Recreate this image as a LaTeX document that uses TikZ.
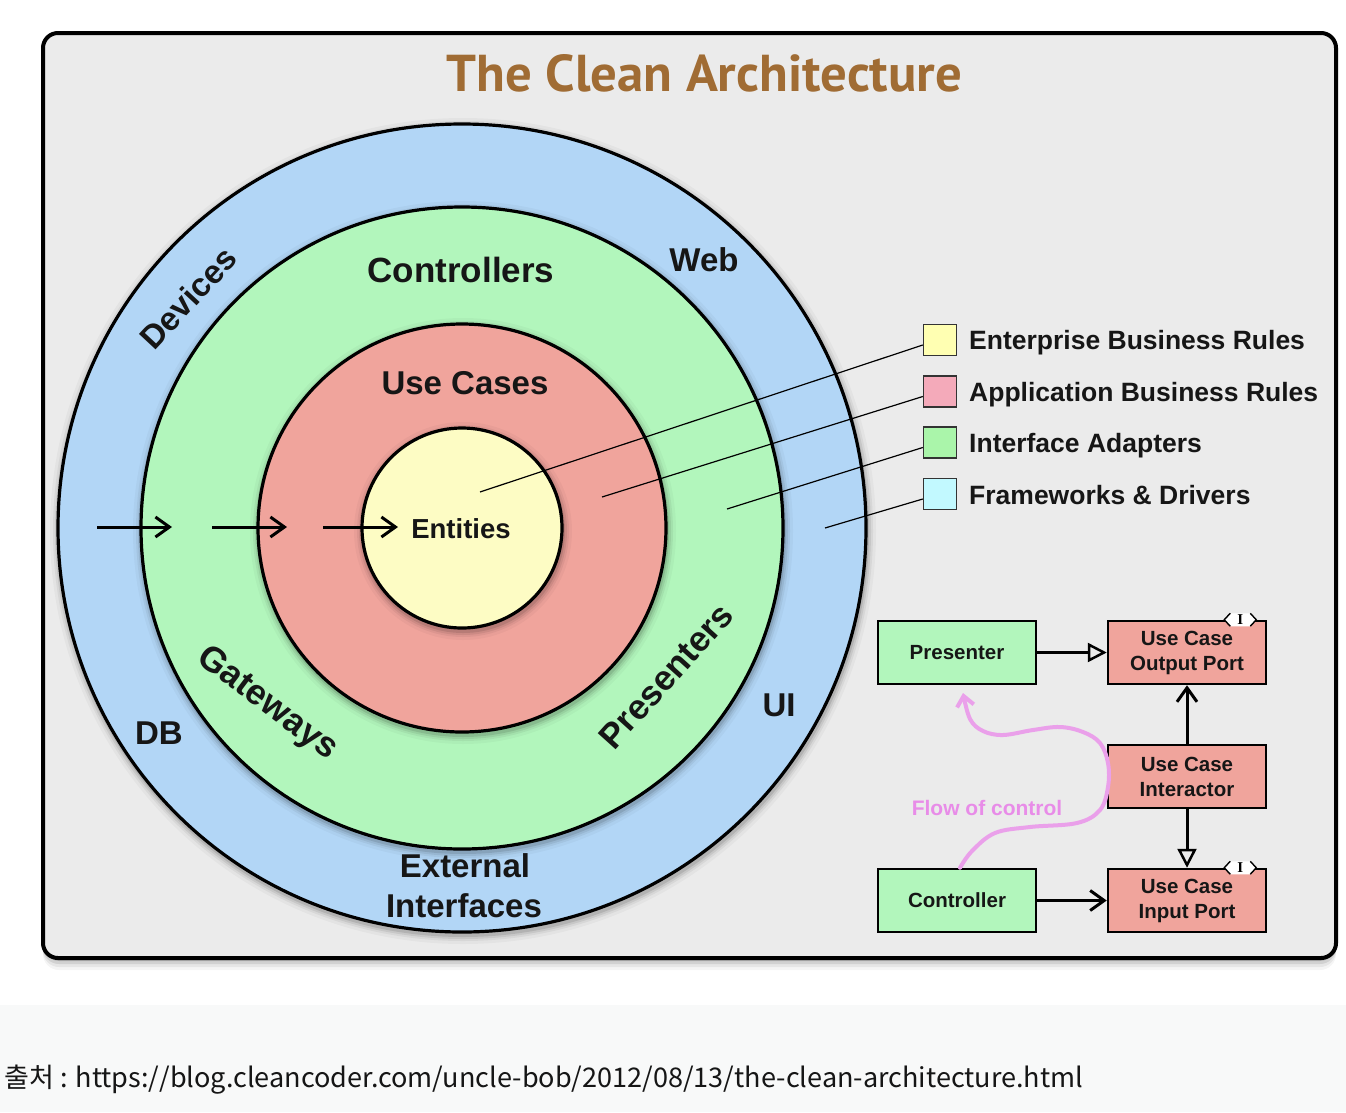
\documentclass[tikz,border=0pt]{standalone}
\usepackage{fontspec}
\setmainfont{Liberation Sans}
\newfontfamily\titlefamily{PT Sans}
\newfontfamily\serifI{Liberation Serif}
\newfontfamily\krfamily{Noto Sans CJK KR}
\usetikzlibrary{arrows.meta,calc}
\definecolor{ink}{RGB}{22,22,22}
\definecolor{framebg}{RGB}{235,235,235}
\definecolor{capbg}{RGB}{248,249,249}
\definecolor{ringblue}{RGB}{178,214,246}
\definecolor{ringgreen}{RGB}{178,246,188}
\definecolor{ringred}{RGB}{240,164,156}
\definecolor{ringyellow}{RGB}{253,252,196}
\definecolor{titlebrown}{RGB}{160,108,52}
\definecolor{flowpink}{RGB}{234,160,234}
\definecolor{flowtext}{RGB}{232,140,232}
\definecolor{legyellow}{RGB}{255,255,178}
\definecolor{legpink}{RGB}{244,170,186}
\definecolor{leggreen}{RGB}{170,245,170}
\definecolor{legcyan}{RGB}{194,249,255}
\begin{document}
\begin{tikzpicture}[x=1pt,y=-1pt,
  ring/.style={circle,draw=black,line width=3.2pt,inner sep=0pt},
  lbl/.style={font=\bfseries\fontsize{33}{36}\selectfont,text=ink,inner sep=0pt},
  legbox/.style={draw=black!80,line width=1.5pt,minimum width=33pt,minimum height=31pt,inner sep=0pt},
  legtxt/.style={font=\bfseries\fontsize{26.5}{30}\selectfont,text=ink,anchor=base west,inner sep=0pt},
  leader/.style={draw=black,line width=1.2pt},
  ibox/.style={draw=black,line width=2.5pt,minimum width=158pt,minimum height=63pt,inner sep=0pt,align=center,font=\bfseries\fontsize{20.5}{25}\selectfont,text=ink},
  dep/.style={draw=black,line width=3pt,-{Straight Barb[length=14pt,width=20pt,line width=3pt]}},
  inh/.style={draw=black,line width=3pt,-{Triangle[open,length=19pt,width=19pt,line width=2.5pt]}},
  flow/.style={draw=flowpink,line width=4pt,line cap=round,-{Straight Barb[length=10pt,width=17pt,line width=4pt]}},
]
\useasboundingbox (0,0) rectangle (1346,1112);
\fill[white] (0,0) rectangle (1346,1005);
\fill[capbg] (0,1005) rectangle (1346,1112);

% frame with soft shadow
\foreach \s/\o in {12/0.04,9/0.06,6/0.09,3/0.12}
  \fill[black,opacity=\o,rounded corners=16pt] (43,{33+\s}) rectangle (1336,{958+\s});
\draw[line width=4pt,rounded corners=15pt,fill=framebg] (43,33) rectangle (1336,958);

\node[inner sep=0pt,anchor=south,text=titlebrown] (title) at (704.5,92.5)
  {\resizebox{515pt}{37pt}{\titlefamily\bfseries The Clean Architecture}};

% rings
\coordinate (c) at (462,528);
\foreach \r in {404,321,204,100}{
  \foreach \d/\o in {9/0.03,6/0.05,4/0.07,2/0.10}
    \fill[black,opacity=\o] ($(c)+(1,3)$) circle[radius=\r+\d];
  \ifnum\r=404 \node[ring,fill=ringblue,minimum size=808pt] (fw) at (c) {};\fi
  \ifnum\r=321 \node[ring,fill=ringgreen,minimum size=642pt] (ia) at (c) {};\fi
  \ifnum\r=204 \node[ring,fill=ringred,minimum size=408pt] (uc) at (c) {};\fi
  \ifnum\r=100 \node[ring,fill=ringyellow,minimum size=200pt] (en) at (c) {};\fi
}

% ring labels
\node[lbl,font=\bfseries\fontsize{35}{38}\selectfont] (lcontrollers) at (461,270) {Controllers};
\node[lbl] (lusecases) at (465,383) {Use Cases};
\node[lbl,font=\bfseries\fontsize{27.5}{30}\selectfont] (lentities) at (461,529) {Entities};
\node[lbl] (lweb) at (704,260) {Web};
\node[lbl] (lui) at (779,705) {UI};
\node[lbl] (ldb) at (159,733) {DB};
\node[lbl] (lext) at (465,866) {External};
\node[lbl] (lint) at (464,906) {Interfaces};
\node[lbl,rotate=47] (ldevices) at (188,298) {Devices};
\node[lbl,rotate=-37,font=\bfseries\fontsize{35.5}{38}\selectfont] (lgateways) at (267,704) {Gateways};
\node[lbl,rotate=48,font=\bfseries\fontsize{35}{38}\selectfont] (lpresenters) at (666,676) {Presenters};

% inward arrows
\coordinate (a1s) at (97,527);  \coordinate (a1e) at (172,527);
\coordinate (a2s) at (212,527); \coordinate (a2e) at (287,527);
\coordinate (a3s) at (323,527); \coordinate (a3e) at (398,527);
\draw[dep] (a1s) -- (a1e);
\draw[dep] (a2s) -- (a2e);
\draw[dep] (a3s) -- (a3e);

% legend
\node[legbox,fill=legyellow] (k1) at (940,340) {};
\node[legbox,fill=legpink]   (k2) at (940,391.5) {};
\node[legbox,fill=leggreen]  (k3) at (940,442.5) {};
\node[legbox,fill=legcyan]   (k4) at (940,494) {};
\node[legtxt] (t1) at (969,349.5) {Enterprise Business Rules};
\node[legtxt] (t2) at (969,401) {Application Business Rules};
\node[legtxt] (t3) at (969,452.5) {Interface Adapters};
\node[legtxt] (t4) at (969,504) {Frameworks \& Drivers};
\coordinate (p1) at (480,492);
\coordinate (p2) at (602,497);
\coordinate (p3) at (727,509);
\coordinate (p4) at (825,528);
\draw[leader] (p1) -- ($(k1.west)+(0,5)$);
\draw[leader] (p2) -- ($(k2.west)+(0,5)$);
\draw[leader] (p3) -- ($(k3.west)+(0,5)$);
\draw[leader] (p4) -- ($(k4.west)+(0,5)$);

% lower-right diagram
\node[ibox,fill=ringgreen] (presenter) at (957,652.5) {Presenter};
\node[ibox,fill=ringred] (outport) at (1187,652.5) {Use Case\\Output Port};
\node[ibox,fill=ringred] (interactor) at (1187,776.5) {Use Case\\Interactor};
\node[ibox,fill=ringgreen] (controller) at (957,900.5) {Controller};
\node[ibox,fill=ringred] (inport) at (1187,900.5) {Use Case\\Input Port};

\draw[inh] (presenter) -- (outport);
\draw[dep] (interactor) -- (outport);
\draw[inh] (interactor) -- (inport);
\draw[dep] (controller) -- (inport);

% interface markers
\foreach \b in {outport,inport}{
  \coordinate (m) at ($(\b.north east)+(-27,0)$);
  \fill[white] ($(m)+(-16,0)$) -- ($(m)+(-10,-6.5)$) -- ($(m)+(10,-6.5)$) -- ($(m)+(16,0)$) -- ($(m)+(10,6.5)$) -- ($(m)+(-10,6.5)$) -- cycle;
  \draw[line width=1.4pt] ($(m)+(-10,-6.5)$) -- ($(m)+(-16,0)$) -- ($(m)+(-10,6.5)$);
  \draw[line width=1.4pt] ($(m)+(10,-6.5)$) -- ($(m)+(16,0)$) -- ($(m)+(10,6.5)$);
  \node[inner sep=0pt,font=\serifI\bfseries\fontsize{15}{15}\selectfont] at (m) {I};
}

% flow of control
\node[inner sep=0pt,text=flowtext,font=\bfseries\fontsize{21}{24}\selectfont] (flowlbl) at (987,808) {Flow of control};
\coordinate (fend) at (963,693);
\draw[flow] plot[smooth,tension=0.6] coordinates {
  ($(controller.north)+(3,0)$) (972,851) (995,833) (1030,827) (1077,823) (1100,810)
  (1108,787) (1108,763) (1100,743) (1083,732) (1060,727) (1033,730) (1003,735)
  (983,731) (970,719) (fend)};

% caption
\node[anchor=base west,inner sep=0pt,text=ink] (caption) at (4,1087)
  {\resizebox{1079pt}{!}{\krfamily 출처 : https://blog.cleancoder.com/uncle-bob/2012/08/13/the-clean-architecture.html}};
\end{tikzpicture}
\end{document}
